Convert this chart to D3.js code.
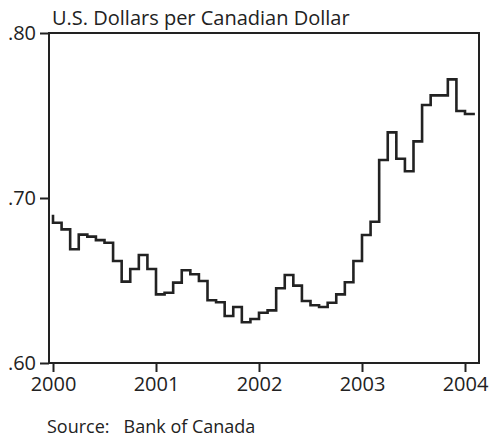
<!DOCTYPE html>
<html>
<head>
<meta charset="utf-8">
<script src="https://cdn.jsdelivr.net/npm/d3@7"></script>
<style>
  html, body { margin: 0; padding: 0; background: #fff; }
  svg { display: block; }
  text { font-family: "Open Sans", Lato, sans-serif; fill: #222; }
</style>
</head>
<body>
<svg id="chart" width="494" height="440"></svg>
<script>
// Tick labels
const yearTicks = [2000, 2001, 2002, 2003, 2004];
const yTickValues = [0.60, 0.70, 0.80];
const yTickLabels = [".60", ".70", ".80"];

// Monthly average exchange rate (US$ per C$)
const dec1999 = 0.689;
const rates2000 = [0.6850, 0.6810, 0.6689, 0.6778, 0.6766, 0.6745, 0.6729, 0.6618, 0.6493, 0.6570, 0.6655, 0.6570];
const rates2001 = [0.6416, 0.6426, 0.6487, 0.6562, 0.6538, 0.6497, 0.6380, 0.6368, 0.6285, 0.6339, 0.6247, 0.6267];
const rates2002 = [0.6305, 0.6319, 0.6453, 0.6533, 0.6469, 0.6376, 0.6350, 0.6339, 0.6365, 0.6416, 0.6489, 0.6618];
const rates2003 = [0.6776, 0.6856, 0.7230, 0.7398, 0.7238, 0.7162, 0.7343, 0.7564, 0.7622, 0.7622, 0.7719, 0.7527];
const rates2004 = [0.7509];

const monthly = [].concat(rates2000, rates2001, rates2002, rates2003, rates2004);
const points = [{ t: 2000, v: dec1999 }].concat(
  monthly.map((v, i) => ({ t: 2000 + (i + 1) / 12, v }))
);

const svg = d3.select("#chart");
const L = 49, R = 479, T = 33, B = 363;
const FONT = '"Open Sans", Lato, sans-serif';

const x = d3.scaleLinear().domain([2000 - 4 / 103, 2004 + 14 / 103]).range([L, R]);
const y = d3.scaleLinear().domain([0.60, 0.80]).range([B, T]);

// frame
svg.append("rect")
  .attr("x", L).attr("y", T).attr("width", R - L).attr("height", B - T)
  .attr("fill", "none").attr("stroke", "#222").attr("stroke-width", 2);

// x axis
const xAxis = d3.axisBottom(x).tickValues(yearTicks).tickFormat(d3.format("d"))
  .tickSize(9).tickPadding(5);
const gx = svg.append("g").attr("transform", `translate(0,${B})`).call(xAxis);
gx.select(".domain").remove();
gx.selectAll("line").attr("stroke", "#222").attr("stroke-width", 2);
gx.selectAll("text").attr("font-size", 20).attr("font-family", FONT).attr("fill", "#222");

// y axis
const yAxis = d3.axisLeft(y).tickValues(yTickValues)
  .tickFormat((d, i) => yTickLabels[i]).tickSize(9).tickPadding(4);
const gy = svg.append("g").attr("transform", `translate(${L},0)`).call(yAxis);
gy.select(".domain").remove();
gy.selectAll("line").attr("stroke", "#222").attr("stroke-width", 2);
gy.selectAll("text").attr("font-size", 20).attr("font-family", FONT).attr("fill", "#222");

// line
const line = d3.line().x(d => x(d.t)).y(d => y(d.v)).curve(d3.curveStepBefore);
svg.append("path").datum(points)
  .attr("d", line).attr("fill", "none")
  .attr("stroke", "#222").attr("stroke-width", 2.6)
  .attr("stroke-linejoin", "miter").attr("stroke-linecap", "square");

// title
svg.append("text").attr("x", 52).attr("y", 25)
  .attr("font-size", 20).text("U.S. Dollars per Canadian Dollar");

// source
svg.append("text").attr("x", 47).attr("y", 433)
  .attr("font-size", 18).attr("xml:space", "preserve")
  .text("Source:   Bank of Canada");
</script>
</body>
</html>
